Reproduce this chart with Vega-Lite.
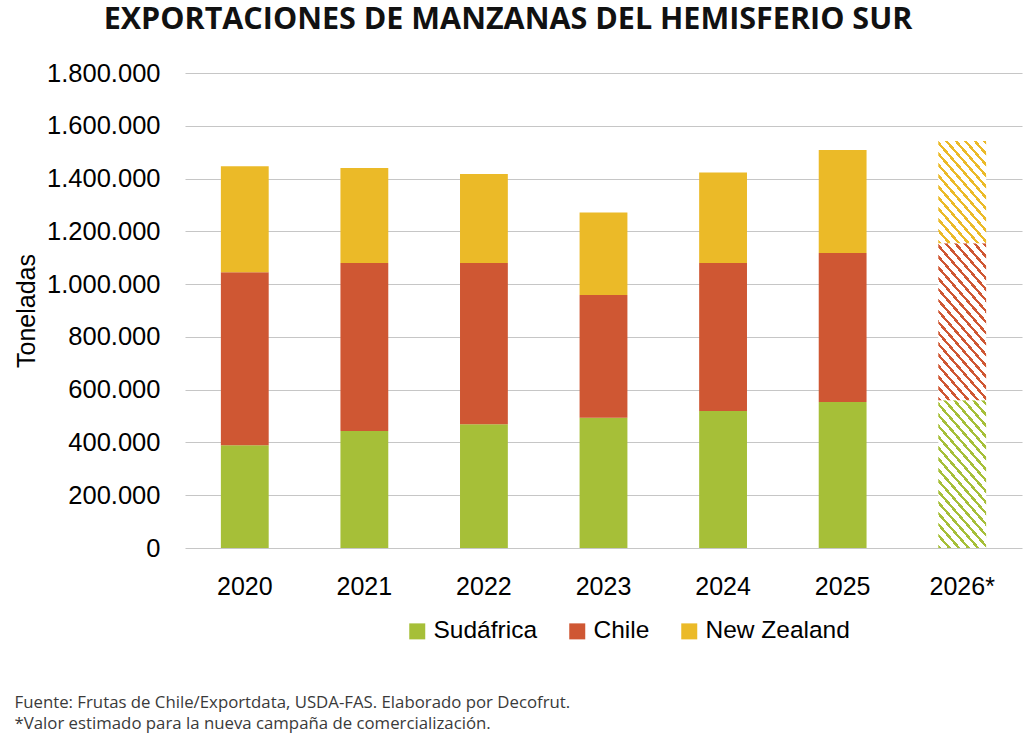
{
  "$schema": "https://vega.github.io/schema/vega-lite/v6.json",
  "width": 837,
  "height": 475,
  "padding": {"left": 14, "top": 5, "right": 2, "bottom": 0},
  "title": {
    "text": "EXPORTACIONES DE MANZANAS DEL HEMISFERIO SUR",
    "font": "Open Sans",
    "fontSize": 30.5,
    "fontWeight": "bold",
    "color": "#111111",
    "anchor": "middle",
    "frame": "bounds",
    "dx": -10,
    "offset": 25.5
  },
  "data": {
    "values": [
      {"anio": "2020", "pais": "Sudáfrica", "orden": 1, "toneladas": 389000},
      {"anio": "2020", "pais": "Chile", "orden": 2, "toneladas": 656000},
      {"anio": "2020", "pais": "New Zealand", "orden": 3, "toneladas": 402000},
      {"anio": "2021", "pais": "Sudáfrica", "orden": 1, "toneladas": 443000},
      {"anio": "2021", "pais": "Chile", "orden": 2, "toneladas": 637000},
      {"anio": "2021", "pais": "New Zealand", "orden": 3, "toneladas": 360000},
      {"anio": "2022", "pais": "Sudáfrica", "orden": 1, "toneladas": 469000},
      {"anio": "2022", "pais": "Chile", "orden": 2, "toneladas": 611000},
      {"anio": "2022", "pais": "New Zealand", "orden": 3, "toneladas": 337000},
      {"anio": "2023", "pais": "Sudáfrica", "orden": 1, "toneladas": 494000},
      {"anio": "2023", "pais": "Chile", "orden": 2, "toneladas": 465000},
      {"anio": "2023", "pais": "New Zealand", "orden": 3, "toneladas": 312000},
      {"anio": "2024", "pais": "Sudáfrica", "orden": 1, "toneladas": 519000},
      {"anio": "2024", "pais": "Chile", "orden": 2, "toneladas": 561000},
      {"anio": "2024", "pais": "New Zealand", "orden": 3, "toneladas": 343000},
      {"anio": "2025", "pais": "Sudáfrica", "orden": 1, "toneladas": 553000},
      {"anio": "2025", "pais": "Chile", "orden": 2, "toneladas": 565000},
      {"anio": "2025", "pais": "New Zealand", "orden": 3, "toneladas": 390000},
      {"anio": "2026*", "pais": "Sudáfrica", "orden": 1, "toneladas": 560000},
      {"anio": "2026*", "pais": "Chile", "orden": 2, "toneladas": 595000},
      {"anio": "2026*", "pais": "New Zealand", "orden": 3, "toneladas": 387000}
    ]
  },
  "encoding": {
    "x": {
      "field": "anio",
      "type": "nominal",
      "sort": null,
      "scale": {
        "domain": ["2020", "2021", "2022", "2023", "2024", "2025", "2026*"],
        "paddingInner": 0.6,
        "paddingOuter": 0.3
      },
      "axis": {
        "title": [
          "Fuente: Frutas de Chile/Exportdata, USDA-FAS. Elaborado por Decofrut.",
          "*Valor estimado para la nueva campaña de comercialización."
        ],
        "labelAngle": 0,
        "labelFont": "Liberation Sans",
        "labelFontSize": 25,
        "labelColor": "#000000",
        "labelPadding": 26,
        "ticks": false,
        "domain": false,
        "titleFont": "Open Sans",
        "titleFontSize": 16.8,
        "titleFontWeight": "normal",
        "titleColor": "#3a3a3a",
        "titleAnchor": "start",
        "titleAlign": "left",
        "titleBaseline": "alphabetic",
        "titleLineHeight": 21,
        "titleX": -171,
        "titleY": 159.5
      }
    },
    "y": {
      "field": "toneladas",
      "type": "quantitative",
      "stack": "zero",
      "scale": {"domain": [0, 1800000], "nice": false},
      "axis": {
        "title": "Toneladas",
        "values": [0, 200000, 400000, 600000, 800000, 1000000, 1200000, 1400000, 1600000, 1800000],
        "format": ",d",
        "labelFont": "Liberation Sans",
        "labelFontSize": 25.5,
        "labelColor": "#000000",
        "labelPadding": 25,
        "ticks": false,
        "domain": false,
        "gridColor": "#c6c6c6",
        "gridWidth": 1.2,
        "titleFont": "Liberation Sans",
        "titleFontSize": 25,
        "titleFontWeight": "normal",
        "titleColor": "#000000",
        "titlePadding": 7
      }
    },
    "order": {"field": "orden", "type": "quantitative"}
  },
  "layer": [
    {
      "transform": [{"filter": "datum.anio !== '2026*'"}],
      "mark": {"type": "bar"},
      "encoding": {
        "color": {
          "field": "pais",
          "type": "nominal",
          "scale": {
            "domain": ["Sudáfrica", "Chile", "New Zealand"],
            "range": ["#a6bf38", "#cf5733", "#ebba28"]
          },
          "legend": {
            "title": null,
            "orient": "none",
            "legendX": 220,
            "legendY": 546,
            "direction": "horizontal",
            "symbolType": "square",
            "symbolSize": 256,
            "symbolStrokeWidth": 0,
            "labelFont": "Liberation Sans",
            "labelFontSize": 24.5,
            "labelColor": "#000000",
            "labelOffset": 4,
            "columnPadding": 27,
            "padding": 0
          }
        }
      }
    },
    {
      "transform": [{"filter": "datum.anio === '2026*'"}],
      "mark": {"type": "bar"},
      "encoding": {
        "fill": {
          "condition": [
            {
              "test": "datum.pais === 'Sudáfrica'",
              "value": {
                "gradient": "linear",
                "x1": 0, "y1": 1, "x2": 0.4473, "y2": -0.2051,
                "stops": [
                  {"offset": 0, "color": "#a6bf38"}, {"offset": 0.018, "color": "#a6bf38"}, {"offset": 0.018, "color": "#ffffff"}, {"offset": 0.054, "color": "#ffffff"},
                  {"offset": 0.054, "color": "#a6bf38"}, {"offset": 0.072, "color": "#a6bf38"}, {"offset": 0.072, "color": "#ffffff"}, {"offset": 0.108, "color": "#ffffff"},
                  {"offset": 0.108, "color": "#a6bf38"}, {"offset": 0.126, "color": "#a6bf38"}, {"offset": 0.126, "color": "#ffffff"}, {"offset": 0.162, "color": "#ffffff"},
                  {"offset": 0.162, "color": "#a6bf38"}, {"offset": 0.18, "color": "#a6bf38"}, {"offset": 0.18, "color": "#ffffff"}, {"offset": 0.216, "color": "#ffffff"},
                  {"offset": 0.216, "color": "#a6bf38"}, {"offset": 0.234, "color": "#a6bf38"}, {"offset": 0.234, "color": "#ffffff"}, {"offset": 0.27, "color": "#ffffff"},
                  {"offset": 0.27, "color": "#a6bf38"}, {"offset": 0.288, "color": "#a6bf38"}, {"offset": 0.288, "color": "#ffffff"}, {"offset": 0.324, "color": "#ffffff"},
                  {"offset": 0.324, "color": "#a6bf38"}, {"offset": 0.342, "color": "#a6bf38"}, {"offset": 0.342, "color": "#ffffff"}, {"offset": 0.378, "color": "#ffffff"},
                  {"offset": 0.378, "color": "#a6bf38"}, {"offset": 0.396, "color": "#a6bf38"}, {"offset": 0.396, "color": "#ffffff"}, {"offset": 0.432, "color": "#ffffff"},
                  {"offset": 0.432, "color": "#a6bf38"}, {"offset": 0.45, "color": "#a6bf38"}, {"offset": 0.45, "color": "#ffffff"}, {"offset": 0.486, "color": "#ffffff"},
                  {"offset": 0.486, "color": "#a6bf38"}, {"offset": 0.504, "color": "#a6bf38"}, {"offset": 0.504, "color": "#ffffff"}, {"offset": 0.54, "color": "#ffffff"},
                  {"offset": 0.54, "color": "#a6bf38"}, {"offset": 0.558, "color": "#a6bf38"}, {"offset": 0.558, "color": "#ffffff"}, {"offset": 0.594, "color": "#ffffff"},
                  {"offset": 0.594, "color": "#a6bf38"}, {"offset": 0.612, "color": "#a6bf38"}, {"offset": 0.612, "color": "#ffffff"}, {"offset": 0.648, "color": "#ffffff"},
                  {"offset": 0.648, "color": "#a6bf38"}, {"offset": 0.666, "color": "#a6bf38"}, {"offset": 0.666, "color": "#ffffff"}, {"offset": 0.702, "color": "#ffffff"},
                  {"offset": 0.702, "color": "#a6bf38"}, {"offset": 0.72, "color": "#a6bf38"}, {"offset": 0.72, "color": "#ffffff"}, {"offset": 0.756, "color": "#ffffff"},
                  {"offset": 0.756, "color": "#a6bf38"}, {"offset": 0.774, "color": "#a6bf38"}, {"offset": 0.774, "color": "#ffffff"}, {"offset": 0.81, "color": "#ffffff"},
                  {"offset": 0.81, "color": "#a6bf38"}, {"offset": 0.828, "color": "#a6bf38"}, {"offset": 0.828, "color": "#ffffff"}, {"offset": 0.864, "color": "#ffffff"},
                  {"offset": 0.864, "color": "#a6bf38"}, {"offset": 0.882, "color": "#a6bf38"}, {"offset": 0.882, "color": "#ffffff"}, {"offset": 0.918, "color": "#ffffff"},
                  {"offset": 0.918, "color": "#a6bf38"}, {"offset": 0.936, "color": "#a6bf38"}, {"offset": 0.936, "color": "#ffffff"}, {"offset": 0.972, "color": "#ffffff"},
                  {"offset": 0.972, "color": "#a6bf38"}, {"offset": 0.99, "color": "#a6bf38"}, {"offset": 0.99, "color": "#ffffff"}, {"offset": 1, "color": "#ffffff"}
                ]
              }
            },
            {
              "test": "datum.pais === 'Chile'",
              "value": {
                "gradient": "linear",
                "x1": 0, "y1": 1, "x2": 0.4202, "y2": -0.2026,
                "stops": [
                  {"offset": 0, "color": "#cf5733"}, {"offset": 0.0172, "color": "#cf5733"}, {"offset": 0.0172, "color": "#ffffff"}, {"offset": 0.0515, "color": "#ffffff"},
                  {"offset": 0.0515, "color": "#cf5733"}, {"offset": 0.0687, "color": "#cf5733"}, {"offset": 0.0687, "color": "#ffffff"}, {"offset": 0.103, "color": "#ffffff"},
                  {"offset": 0.103, "color": "#cf5733"}, {"offset": 0.1202, "color": "#cf5733"}, {"offset": 0.1202, "color": "#ffffff"}, {"offset": 0.1545, "color": "#ffffff"},
                  {"offset": 0.1545, "color": "#cf5733"}, {"offset": 0.1717, "color": "#cf5733"}, {"offset": 0.1717, "color": "#ffffff"}, {"offset": 0.206, "color": "#ffffff"},
                  {"offset": 0.206, "color": "#cf5733"}, {"offset": 0.2232, "color": "#cf5733"}, {"offset": 0.2232, "color": "#ffffff"}, {"offset": 0.2575, "color": "#ffffff"},
                  {"offset": 0.2575, "color": "#cf5733"}, {"offset": 0.2747, "color": "#cf5733"}, {"offset": 0.2747, "color": "#ffffff"}, {"offset": 0.309, "color": "#ffffff"},
                  {"offset": 0.309, "color": "#cf5733"}, {"offset": 0.3262, "color": "#cf5733"}, {"offset": 0.3262, "color": "#ffffff"}, {"offset": 0.3605, "color": "#ffffff"},
                  {"offset": 0.3605, "color": "#cf5733"}, {"offset": 0.3777, "color": "#cf5733"}, {"offset": 0.3777, "color": "#ffffff"}, {"offset": 0.412, "color": "#ffffff"},
                  {"offset": 0.412, "color": "#cf5733"}, {"offset": 0.4292, "color": "#cf5733"}, {"offset": 0.4292, "color": "#ffffff"}, {"offset": 0.4635, "color": "#ffffff"},
                  {"offset": 0.4635, "color": "#cf5733"}, {"offset": 0.4807, "color": "#cf5733"}, {"offset": 0.4807, "color": "#ffffff"}, {"offset": 0.515, "color": "#ffffff"},
                  {"offset": 0.515, "color": "#cf5733"}, {"offset": 0.5322, "color": "#cf5733"}, {"offset": 0.5322, "color": "#ffffff"}, {"offset": 0.5665, "color": "#ffffff"},
                  {"offset": 0.5665, "color": "#cf5733"}, {"offset": 0.5837, "color": "#cf5733"}, {"offset": 0.5837, "color": "#ffffff"}, {"offset": 0.618, "color": "#ffffff"},
                  {"offset": 0.618, "color": "#cf5733"}, {"offset": 0.6352, "color": "#cf5733"}, {"offset": 0.6352, "color": "#ffffff"}, {"offset": 0.6695, "color": "#ffffff"},
                  {"offset": 0.6695, "color": "#cf5733"}, {"offset": 0.6867, "color": "#cf5733"}, {"offset": 0.6867, "color": "#ffffff"}, {"offset": 0.721, "color": "#ffffff"},
                  {"offset": 0.721, "color": "#cf5733"}, {"offset": 0.7382, "color": "#cf5733"}, {"offset": 0.7382, "color": "#ffffff"}, {"offset": 0.7725, "color": "#ffffff"},
                  {"offset": 0.7725, "color": "#cf5733"}, {"offset": 0.7897, "color": "#cf5733"}, {"offset": 0.7897, "color": "#ffffff"}, {"offset": 0.824, "color": "#ffffff"},
                  {"offset": 0.824, "color": "#cf5733"}, {"offset": 0.8412, "color": "#cf5733"}, {"offset": 0.8412, "color": "#ffffff"}, {"offset": 0.8755, "color": "#ffffff"},
                  {"offset": 0.8755, "color": "#cf5733"}, {"offset": 0.8927, "color": "#cf5733"}, {"offset": 0.8927, "color": "#ffffff"}, {"offset": 0.927, "color": "#ffffff"},
                  {"offset": 0.927, "color": "#cf5733"}, {"offset": 0.9442, "color": "#cf5733"}, {"offset": 0.9442, "color": "#ffffff"}, {"offset": 0.9785, "color": "#ffffff"},
                  {"offset": 0.9785, "color": "#cf5733"}, {"offset": 0.9957, "color": "#cf5733"}, {"offset": 0.9957, "color": "#ffffff"}, {"offset": 1, "color": "#ffffff"}
                ]
              }
            }
          ],
          "value": {
            "gradient": "linear",
            "x1": 0, "y1": 1, "x2": 0.6438, "y2": -0.1923,
            "stops": [
              {"offset": 0, "color": "#ebba28"}, {"offset": 0.0233, "color": "#ebba28"}, {"offset": 0.0233, "color": "#ffffff"}, {"offset": 0.0697, "color": "#ffffff"},
              {"offset": 0.0697, "color": "#ebba28"}, {"offset": 0.093, "color": "#ebba28"}, {"offset": 0.093, "color": "#ffffff"}, {"offset": 0.1394, "color": "#ffffff"},
              {"offset": 0.1394, "color": "#ebba28"}, {"offset": 0.1627, "color": "#ebba28"}, {"offset": 0.1627, "color": "#ffffff"}, {"offset": 0.2091, "color": "#ffffff"},
              {"offset": 0.2091, "color": "#ebba28"}, {"offset": 0.2324, "color": "#ebba28"}, {"offset": 0.2324, "color": "#ffffff"}, {"offset": 0.2788, "color": "#ffffff"},
              {"offset": 0.2788, "color": "#ebba28"}, {"offset": 0.3021, "color": "#ebba28"}, {"offset": 0.3021, "color": "#ffffff"}, {"offset": 0.3485, "color": "#ffffff"},
              {"offset": 0.3485, "color": "#ebba28"}, {"offset": 0.3718, "color": "#ebba28"}, {"offset": 0.3718, "color": "#ffffff"}, {"offset": 0.4182, "color": "#ffffff"},
              {"offset": 0.4182, "color": "#ebba28"}, {"offset": 0.4415, "color": "#ebba28"}, {"offset": 0.4415, "color": "#ffffff"}, {"offset": 0.4879, "color": "#ffffff"},
              {"offset": 0.4879, "color": "#ebba28"}, {"offset": 0.5112, "color": "#ebba28"}, {"offset": 0.5112, "color": "#ffffff"}, {"offset": 0.5576, "color": "#ffffff"},
              {"offset": 0.5576, "color": "#ebba28"}, {"offset": 0.5809, "color": "#ebba28"}, {"offset": 0.5809, "color": "#ffffff"}, {"offset": 0.6273, "color": "#ffffff"},
              {"offset": 0.6273, "color": "#ebba28"}, {"offset": 0.6506, "color": "#ebba28"}, {"offset": 0.6506, "color": "#ffffff"}, {"offset": 0.697, "color": "#ffffff"},
              {"offset": 0.697, "color": "#ebba28"}, {"offset": 0.7203, "color": "#ebba28"}, {"offset": 0.7203, "color": "#ffffff"}, {"offset": 0.7667, "color": "#ffffff"},
              {"offset": 0.7667, "color": "#ebba28"}, {"offset": 0.79, "color": "#ebba28"}, {"offset": 0.79, "color": "#ffffff"}, {"offset": 0.8364, "color": "#ffffff"},
              {"offset": 0.8364, "color": "#ebba28"}, {"offset": 0.8597, "color": "#ebba28"}, {"offset": 0.8597, "color": "#ffffff"}, {"offset": 0.9061, "color": "#ffffff"},
              {"offset": 0.9061, "color": "#ebba28"}, {"offset": 0.9294, "color": "#ebba28"}, {"offset": 0.9294, "color": "#ffffff"}, {"offset": 0.9758, "color": "#ffffff"},
              {"offset": 0.9758, "color": "#ebba28"}, {"offset": 0.9991, "color": "#ebba28"}, {"offset": 0.9991, "color": "#ffffff"}, {"offset": 1, "color": "#ffffff"}
            ]
          }
        }
      }
    }
  ],
  "config": {
    "view": {"stroke": null},
    "locale": {
      "number": {"decimal": ",", "thousands": ".", "grouping": [3], "currency": ["$", ""]}
    }
  }
}
